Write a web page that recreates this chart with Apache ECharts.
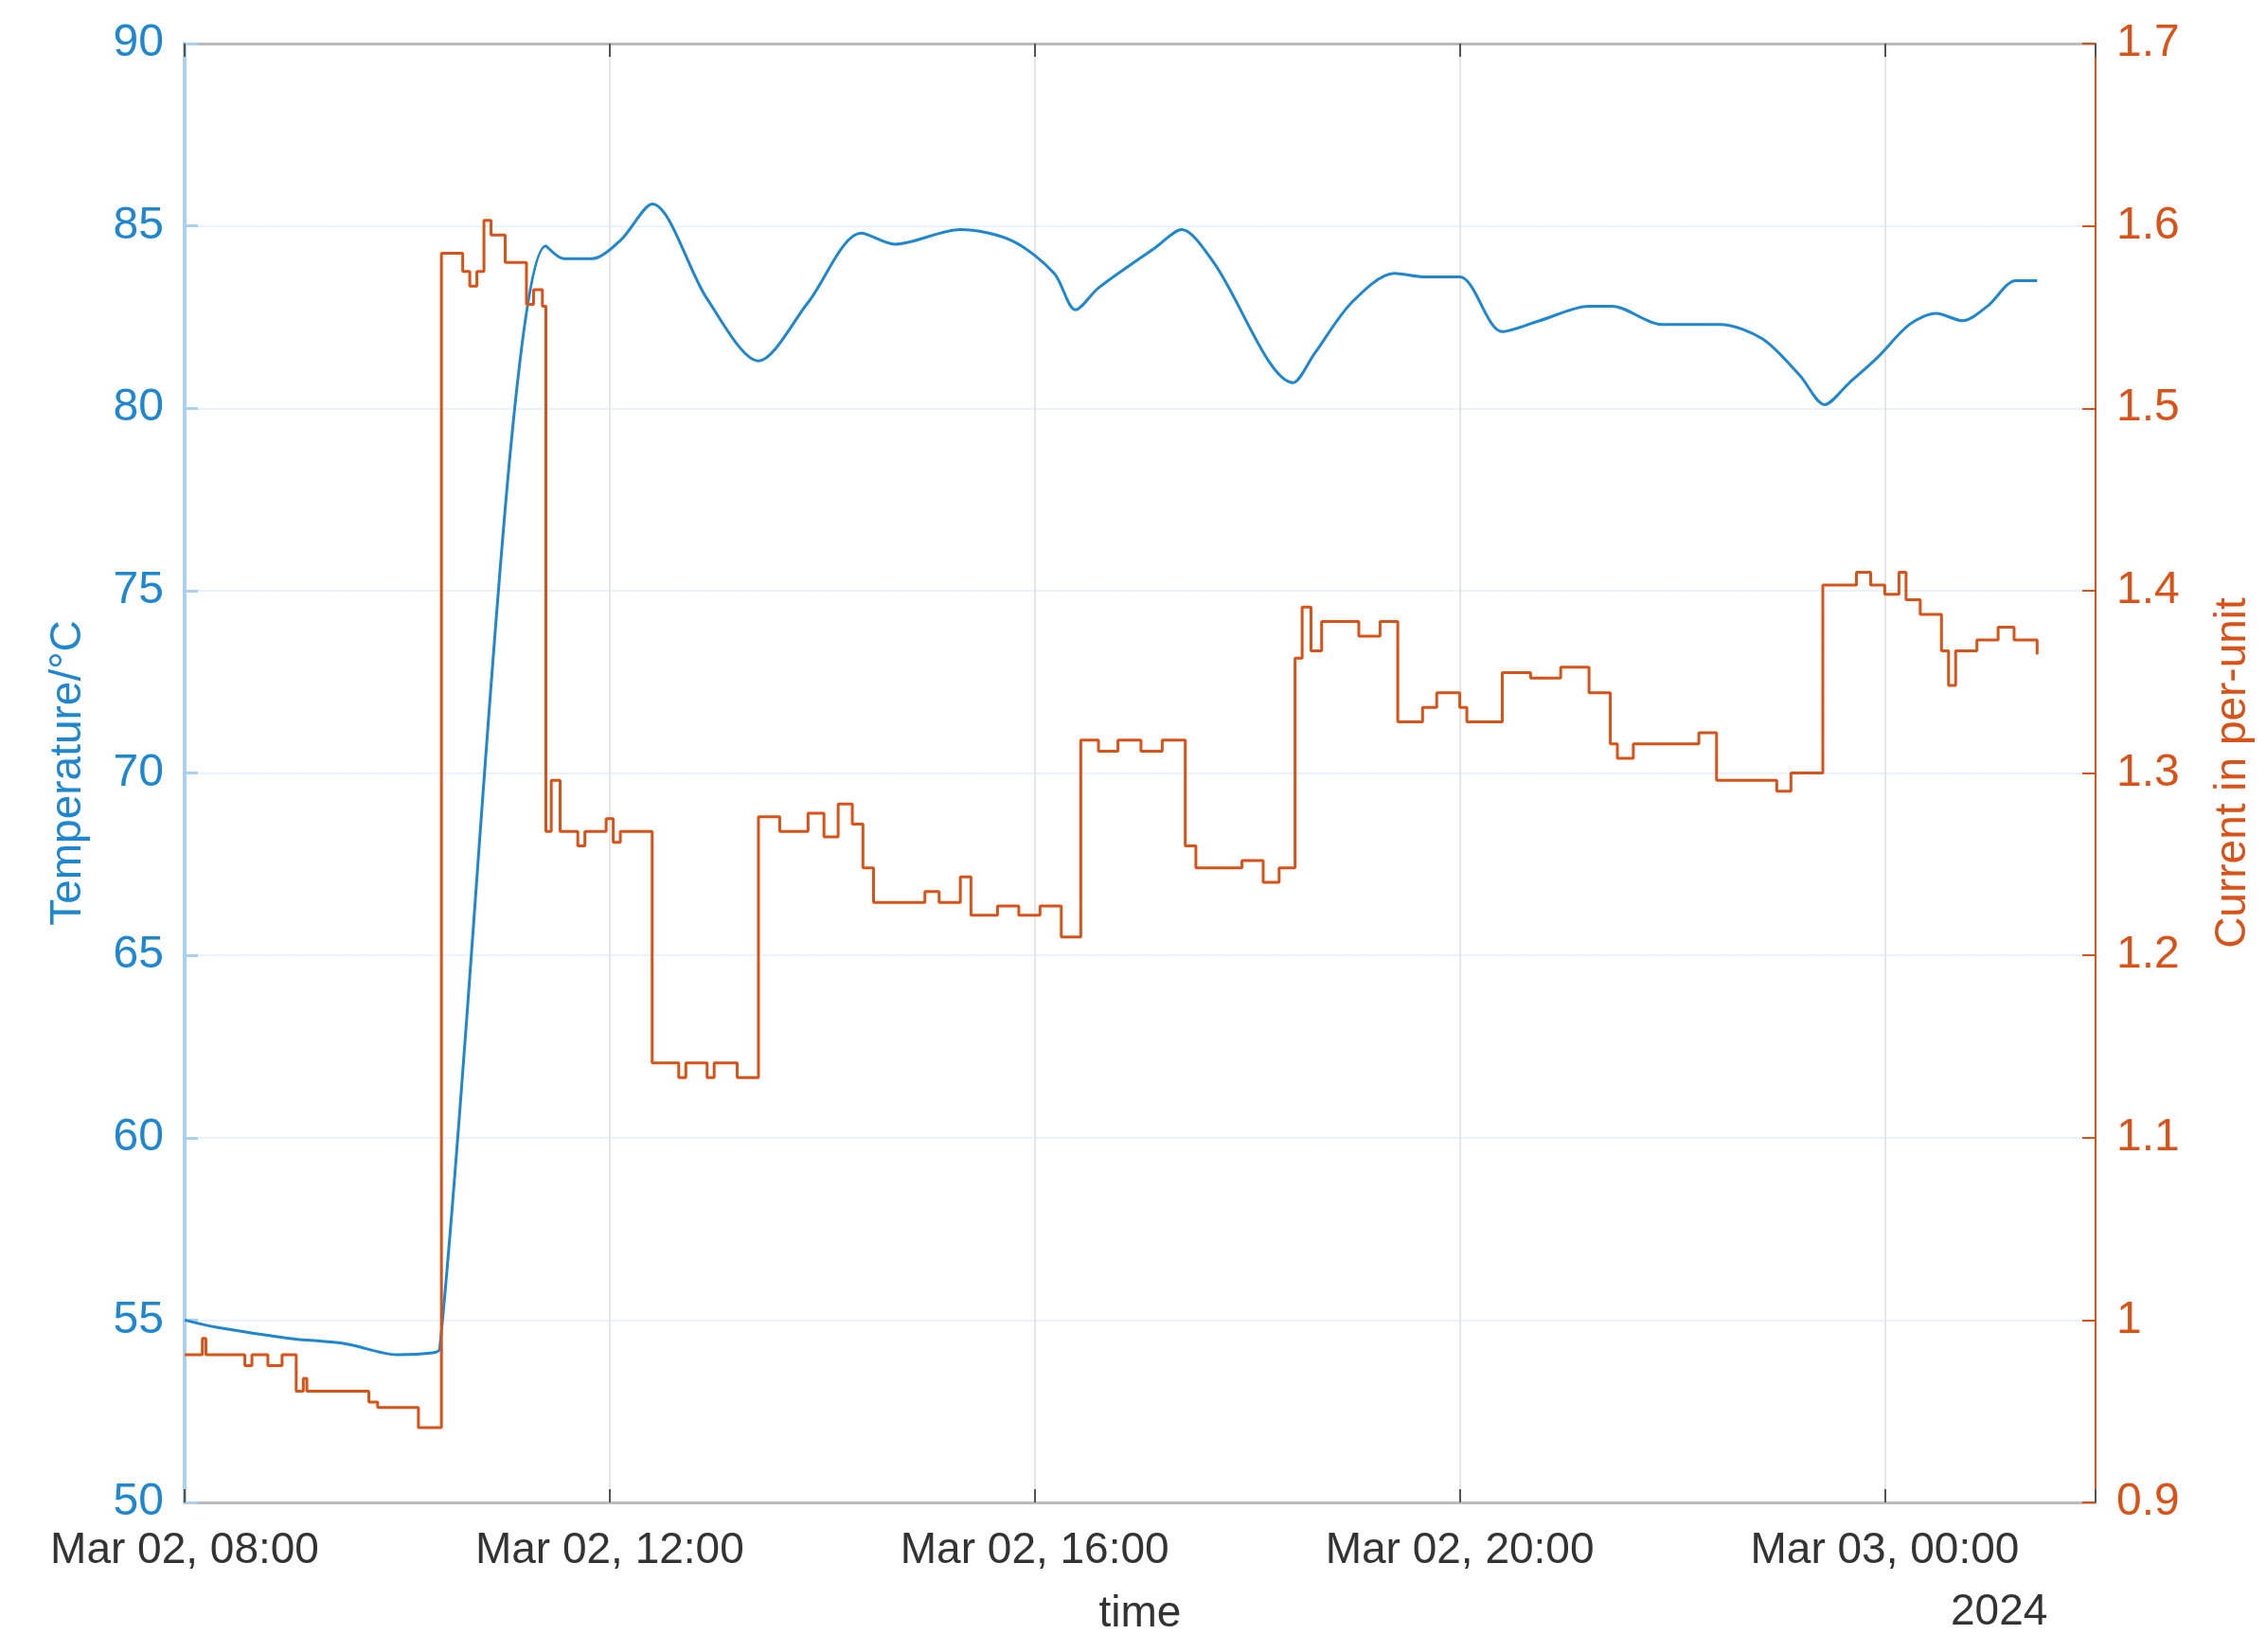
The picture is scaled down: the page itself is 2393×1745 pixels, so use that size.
<!DOCTYPE html>
<html>
<head>
<meta charset="utf-8">
<script src="https://cdn.jsdelivr.net/npm/echarts@6/dist/echarts.min.js"></script>
<style>html,body{margin:0;padding:0;background:#fff}#chart{width:2393px;height:1745px}</style>
</head>
<body>
<div id="chart"></div>
<script>
// minutes after Mar 02, 08:00
const tempTime = [0, 18, 59, 91, 120, 140, 144, 204, 214, 230, 246, 264, 295, 324, 352, 382, 401, 438, 467, 491, 503, 516, 548, 563, 581, 626, 638, 659, 683, 700, 720, 744, 765, 793, 806, 834, 867, 891, 912, 926, 940, 956, 974, 989, 1004, 1018, 1034, 1046];
const tempValue = [55.0, 54.8, 54.5, 54.35, 54.05, 54.1, 54.2, 84.45, 84.1, 84.1, 84.6, 85.6, 83.0, 81.3, 82.9, 84.8, 84.5, 84.9, 84.6, 83.7, 82.7, 83.3, 84.4, 84.9, 84.0, 80.7, 81.5, 82.9, 83.7, 83.6, 83.6, 82.1, 82.4, 82.8, 82.8, 82.3, 82.3, 81.9, 80.9, 80.1, 80.7, 81.4, 82.3, 82.6, 82.4, 82.8, 83.5, 83.5];
const curTime = [0, 10, 12, 34, 38, 47, 55, 63, 67, 69, 104, 109, 132, 145, 157, 161, 165, 169, 173, 181, 193, 197, 202, 204, 207, 212, 222, 226, 238, 242, 246, 264, 279, 283, 295, 299, 312, 324, 336, 352, 361, 369, 377, 383, 389, 418, 426, 438, 444, 459, 471, 483, 495, 506, 516, 527, 540, 552, 565, 571, 597, 609, 618, 627, 631, 636, 642, 663, 675, 685, 699, 707, 720, 724, 744, 760, 777, 793, 805, 809, 818, 855, 865, 883, 899, 907, 925, 944, 952, 960, 968, 972, 980, 992, 996, 1000, 1012, 1024, 1033, 1046];
const curValue = [0.981, 0.99, 0.981, 0.975, 0.981, 0.975, 0.981, 0.961, 0.968, 0.961, 0.955, 0.952, 0.941, 1.585, 1.575, 1.567, 1.575, 1.603, 1.595, 1.58, 1.557, 1.565, 1.556, 1.268, 1.296, 1.268, 1.26, 1.268, 1.275, 1.262, 1.268, 1.141, 1.133, 1.141, 1.133, 1.141, 1.133, 1.276, 1.268, 1.278, 1.265, 1.283, 1.272, 1.248, 1.229, 1.235, 1.229, 1.243, 1.222, 1.227, 1.222, 1.227, 1.21, 1.318, 1.312, 1.318, 1.312, 1.318, 1.26, 1.248, 1.252, 1.24, 1.248, 1.363, 1.391, 1.367, 1.383, 1.375, 1.383, 1.328, 1.336, 1.344, 1.336, 1.328, 1.355, 1.352, 1.358, 1.344, 1.316, 1.308, 1.316, 1.322, 1.296, 1.296, 1.29, 1.3, 1.403, 1.41, 1.403, 1.398, 1.41, 1.395, 1.387, 1.367, 1.348, 1.367, 1.373, 1.38, 1.373, 1.365];
const xTickLabels = ["Mar 02, 08:00", "Mar 02, 12:00", "Mar 02, 16:00", "Mar 02, 20:00", "Mar 03, 00:00"];

const blue = "#1f86d0", orange = "#d95319";
const font = "Liberation Sans";
const chart = echarts.init(document.getElementById("chart"));
chart.setOption({
  animation: false,
  grid: { left: 195, right: 180, top: 46, bottom: 158 },
  xAxis: [{
    type: "value", min: 0, max: 1079, interval: 240,
    name: "time", nameLocation: "middle", nameGap: 95,
    nameTextStyle: { color: "#333", fontSize: 46, fontFamily: font },
    axisLine: { onZero: false, lineStyle: { color: "#bbb", width: 3 } },
    axisTick: { inside: true, length: 14, lineStyle: { color: "#555", width: 2 } },
    axisLabel: { color: "#333", fontSize: 46, fontFamily: font, margin: 28,
      formatter: v => xTickLabels[v / 240] || "" },
    splitLine: { show: true, lineStyle: { color: "#e6e6e6", width: 2 } }
  }, {
    type: "value", min: 0, max: 1079, interval: 240, position: "top",
    axisLine: { onZero: false, lineStyle: { color: "#bbb", width: 3 } },
    axisTick: { inside: true, length: 14, lineStyle: { color: "#555", width: 2 } },
    axisLabel: { show: false }, splitLine: { show: false }
  }],
  yAxis: [{
    type: "value", min: 50, max: 90, interval: 5, position: "left",
    name: "Temperature/°C", nameLocation: "middle", nameGap: 100,
    nameTextStyle: { color: blue, fontSize: 46, fontFamily: font },
    axisLine: { show: true, onZero: false, lineStyle: { color: "#a9d0ef", width: 4 } },
    axisTick: { inside: true, length: 14, lineStyle: { color: "#a9d0ef", width: 3 } },
    axisLabel: { color: blue, fontSize: 48, fontFamily: font, margin: 22 },
    splitLine: { show: true, lineStyle: { color: "#eaf3fb", width: 2 } }
  }, {
    type: "value", min: 0.9, max: 1.7, interval: 0.1, position: "right",
    name: "Current in per-unit", nameLocation: "middle", nameGap: 122, nameRotate: 90,
    nameTextStyle: { color: orange, fontSize: 46, fontFamily: font },
    axisLine: { show: true, onZero: false, lineStyle: { color: orange, width: 2 } },
    axisTick: { inside: true, length: 14, lineStyle: { color: orange, width: 2 } },
    axisLabel: { color: orange, fontSize: 48, fontFamily: font, margin: 22,
      formatter: v => (Math.abs(v - 1) < 1e-6 ? "1" : v.toFixed(1)) },
    splitLine: { show: false }
  }],
  graphic: [{ type: "text", left: 2060, top: 1680,
    style: { text: "2024", fill: "#333", font: "46px " + font } }],
  series: [{
    type: "line", yAxisIndex: 0, showSymbol: false, smooth: 0.3,
    lineStyle: { color: blue, width: 3 }, itemStyle: { color: blue },
    data: tempTime.map((t, i) => [t, tempValue[i]])
  }, {
    type: "line", yAxisIndex: 1, showSymbol: false, step: "end",
    lineStyle: { color: orange, width: 3 }, itemStyle: { color: orange },
    data: curTime.map((t, i) => [t, curValue[i]])
  }]
});
</script>
</body>
</html>
